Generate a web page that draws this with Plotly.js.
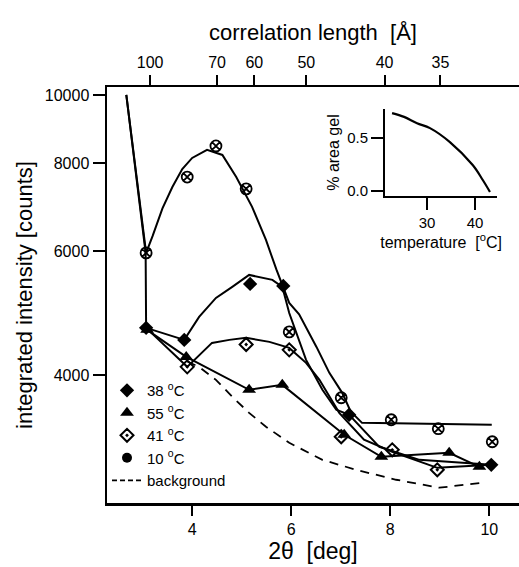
<!DOCTYPE html>
<html>
<head>
<meta charset="utf-8">
<script src="https://cdn.plot.ly/plotly-3.0.1.min.js"></script>
<style>html,body{margin:0;padding:0;background:#fff;}#chart{width:519px;height:567px;}</style>
</head>
<body>
<div id="chart"></div>
<script>
// ---- data ----
const corrTicks = [100, 70, 60, 50, 40, 35];          // correlation length [Å]
const wavelength = 5.5;                               // Å, used to place top ticks
const yTicks = [4000, 6000, 8000, 10000];
const xTicks = [4, 6, 8, 10];

// 10 °C
const pts10x = [3.07, 3.90, 4.48, 5.09, 5.96, 7.01, 8.02, 8.97, 10.06];
const pts10y = [5965, 7645, 8464, 7355, 4606, 3713, 3455, 3355, 3215];
const fit10x = [2.67, 3.07, 3.20, 3.40, 3.60, 3.80, 4.0, 4.3, 4.61, 4.89, 5.21, 5.49, 5.70, 5.96, 6.16, 6.51, 6.77, 7.03, 7.2, 7.43, 10.05];
const fit10y = [10000, 5965, 6300, 6900, 7400, 7850, 8138, 8355, 8218, 7645, 6934, 6223, 5650, 5064, 4880, 4385, 4028, 3773, 3550, 3420, 3399];

// 38 °C
const pts38x = [3.07, 3.84, 5.17, 5.84, 7.17, 10.04];
const pts38y = [4667, 4487, 5389, 5354, 3512, 2981];
const fit38x = [2.67, 3.06, 3.07, 3.84, 4.14, 4.48, 4.81, 5.15, 5.62, 5.82, 5.96, 6.30, 6.63, 6.91, 7.17, 7.78, 8.59, 10.04];
const fit38y = [10000, 5965, 4667, 4487, 4838, 5147, 5338, 5550, 5461, 5338, 4900, 4203, 3811, 3570, 3512, 3162, 3030, 2981];

// 55 °C
const pts55x = [3.09, 3.88, 5.15, 5.82, 7.07, 7.82, 9.19, 9.80];
const pts55y = [4637, 4244, 3811, 3873, 3289, 3061, 3101, 2962];

// 41 °C
const pts41x = [3.90, 5.09, 5.96, 7.01, 8.04, 8.95];
const pts41y = [4108, 4420, 4343, 3268, 3131, 2933];
const fit41x = [3.07, 3.90, 4.40, 4.75, 5.09, 5.56, 5.96, 6.30, 6.57, 6.97, 7.47, 8.04, 8.95, 10.04];
const fit41y = [4667, 4108, 4443, 4487, 4517, 4458, 4371, 4162, 3937, 3534, 3236, 3111, 2952, 2981];

// background
const bgX = [3.9, 4.14, 4.48, 4.81, 5.15, 5.49, 5.96, 6.36, 6.63, 7.31, 8.12, 8.99, 9.86];
const bgY = [4180, 4108, 3937, 3724, 3534, 3377, 3204, 3101, 3030, 2933, 2839, 2766, 2811];

// inset: % area gel vs temperature
const tempX = [22.7, 25.2, 27.9, 30.6, 34.75, 39.5, 41.6, 43.1];
const gelY = [0.736, 0.70, 0.64, 0.594, 0.462, 0.245, 0.104, -0.009];

// ---- chart ----
const FONT = 'Liberation Sans, Arial, Helvetica, sans-serif';
const topTickVals = corrTicks.map(L => 2 * Math.asin(wavelength / (2 * L)) * 180 / Math.PI);
const xr = [2.28, 10.6];
const line = (w) => ({color: '#000', width: w});

const traces = [
  // fit lines
  {x: fit10x, y: fit10y, mode: 'lines', line: line(2), showlegend: false, hoverinfo: 'skip'},
  {x: fit38x, y: fit38y, mode: 'lines', line: line(2), showlegend: false, hoverinfo: 'skip'},
  {x: fit41x, y: fit41y, mode: 'lines', line: line(2), showlegend: false, hoverinfo: 'skip'},
  {x: pts55x, y: pts55y, mode: 'lines', line: line(2), showlegend: false, hoverinfo: 'skip'},
  {x: bgX, y: bgY, mode: 'lines', line: {color: '#000', width: 1.8, dash: '9px,7px'}, showlegend: false, hoverinfo: 'skip'},
  // data markers
  {x: pts10x, y: pts10y, mode: 'markers', showlegend: false,
   marker: {symbol: 'circle-x-open', size: 11, color: '#000', line: {color: '#000', width: 1.8}}},
  {x: pts38x, y: pts38y, mode: 'markers', showlegend: false,
   marker: {symbol: 'diamond', size: 11, color: '#000'}},
  {x: pts55x, y: pts55y, mode: 'markers', showlegend: false,
   marker: {symbol: 'triangle-up', size: 12, color: '#000'}},
  {x: pts41x, y: pts41y, mode: 'markers', showlegend: false,
   marker: {symbol: 'diamond-open-dot', size: 10, color: '#000', line: {color: '#000', width: 2}}},
  // legend entries
  {x: [null], y: [null], mode: 'markers', name: '38 <sup>o</sup>C', legendgroup: 'a',
   marker: {symbol: 'diamond', size: 11, color: '#000'}},
  {x: [null], y: [null], mode: 'markers', name: '55 <sup>o</sup>C', legendgroup: 'b',
   marker: {symbol: 'triangle-up', size: 12, color: '#000'}},
  {x: [null], y: [null], mode: 'markers', name: '41 <sup>o</sup>C', legendgroup: 'c',
   marker: {symbol: 'diamond-open-dot', size: 10, color: '#000', line: {color: '#000', width: 2}}},
  {x: [null], y: [null], mode: 'markers', name: '10 <sup>o</sup>C', legendgroup: 'd',
   marker: {symbol: 'circle', size: 10, color: '#000'}},
  {x: [null], y: [null], mode: 'lines', name: 'background', legendgroup: 'e',
   line: {color: '#000', width: 1.8, dash: '5px,3px'}},
  // dummy for top axis
  {x: [5], y: [5000], xaxis: 'x2', mode: 'markers', marker: {opacity: 0}, showlegend: false, hoverinfo: 'skip'},
  // inset
  {x: tempX, y: gelY, xaxis: 'x3', yaxis: 'y3', mode: 'lines', line: {color: '#000', width: 2.2, shape: 'spline'},
   showlegend: false, hoverinfo: 'skip'}
];

const layout = {
  width: 519, height: 567,
  margin: {l: 107, r: 0, t: 87, b: 64},
  paper_bgcolor: '#fff', plot_bgcolor: '#fff',
  font: {family: FONT, color: '#000', size: 16},
  showlegend: true,
  legend: {x: 0, xanchor: 'left', y: 0.31, yanchor: 'top', bgcolor: 'rgba(0,0,0,0)',
           font: {family: FONT, size: 15, color: '#000'}, traceorder: 'grouped', tracegroupgap: 0},
  xaxis: {range: xr, tickvals: xTicks, ticks: 'outside', ticklen: 10, tickwidth: 2, tickcolor: '#000',
          showline: true, linewidth: 2.5, linecolor: '#000', showgrid: false, zeroline: false,
          tickfont: {size: 16}, title: {text: '2θ  [deg]', font: {size: 23}, standoff: 2}},
  xaxis2: {range: xr, overlaying: 'x', side: 'top', anchor: 'y', tickvals: topTickVals,
           ticktext: corrTicks.map(String), ticks: 'outside', ticklen: 10, tickwidth: 2, tickcolor: '#000',
           showline: true, linewidth: 2.5, linecolor: '#000', showgrid: false, zeroline: false,
           tickfont: {size: 16}, title: {text: 'correlation length  [Å]', font: {size: 22}, standoff: 8}},
  yaxis: {type: 'log', range: [Math.log10(2631), Math.log10(10265)], tickvals: yTicks,
          ticktext: yTicks.map(String), ticks: 'outside', ticklen: 12, tickwidth: 2, tickcolor: '#000',
          showline: true, linewidth: 2.5, linecolor: '#000', showgrid: false, zeroline: false,
          tickfont: {size: 16}, title: {text: 'integrated intensity [counts]', font: {size: 22}, standoff: 6}},
  xaxis3: {domain: [0.675, 0.947], anchor: 'y3', range: [21.25, 44.6], tickvals: [30, 40],
           ticks: 'outside', ticklen: 12, tickwidth: 2, tickcolor: '#000',
           showline: true, linewidth: 2, linecolor: '#000', showgrid: false, zeroline: false,
           tickfont: {size: 15}, title: {text: 'temperature  [<sup>o</sup>C]', font: {size: 16}, standoff: 0}},
  yaxis3: {domain: [0.738, 0.947], anchor: 'x3', range: [-0.047, 0.774], tickvals: [0, 0.5],
           ticktext: ['0.0', '0.5'], ticks: 'outside', ticklen: 12, tickwidth: 2, tickcolor: '#000',
           showline: true, linewidth: 2, linecolor: '#000', showgrid: false, zeroline: false,
           tickfont: {size: 15}, title: {text: '% area gel', font: {size: 16}, standoff: 4}}
};

Plotly.newPlot('chart', traces, layout, {displayModeBar: false, staticPlot: true});
</script>
</body>
</html>
